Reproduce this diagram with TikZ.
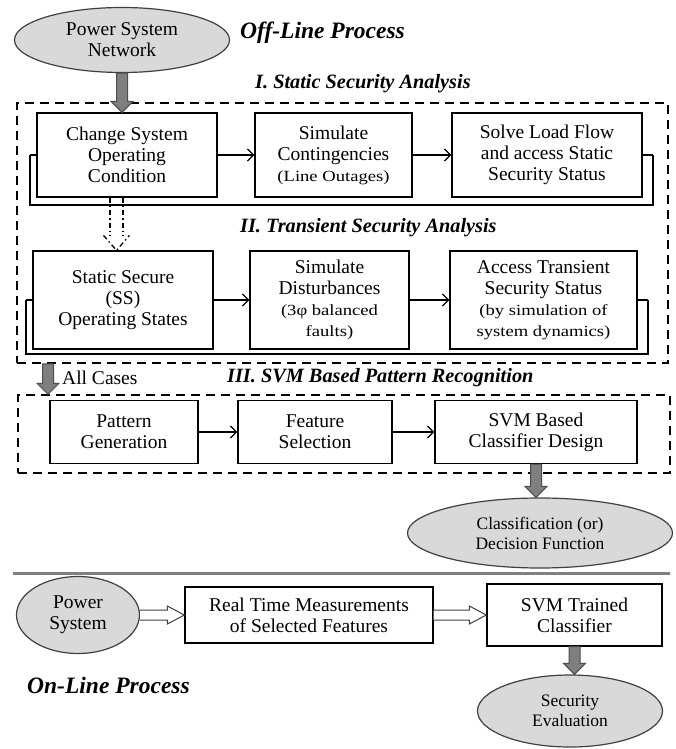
\documentclass[tikz,border=0pt]{standalone}
\usepackage{fontspec}
\setmainfont{Liberation Serif}
\newfontfamily\smallf[FakeStretch=1.2]{Liberation Serif}
\usetikzlibrary{shapes.geometric,arrows.meta,calc}
\definecolor{ellfill}{HTML}{D9D9D9}
\definecolor{ellline}{HTML}{404040}
\definecolor{garfill}{HTML}{7F7F7F}
\definecolor{garline}{HTML}{4D4D4D}
\newcommand\mainsz{\fontsize{19.5}{21}\selectfont}
\newcommand\smallsz{\smallf\fontsize{15.5}{19}\selectfont}
\newcommand\ellsz{\fontsize{17.5}{20}\selectfont}
\newcommand\titlesz{\fontsize{20.3}{24}\selectfont\bfseries\itshape}
\newcommand\bigtitlesz{\fontsize{23.5}{26}\selectfont\bfseries\itshape}
\newcommand\grayarrow[2]{\draw[garrow] ($(#1)+(-5.5,0)$) -- ($(#2)+(-5.5,-11)$) -- ($(#2)+(-11,-11)$) -- (#2) -- ($(#2)+(11,-11)$) -- ($(#2)+(5.5,-11)$) -- ($(#1)+(5.5,0)$) -- cycle;}
\newcommand\hollowarrow[2]{\draw[harrow] ($(#1)+(0,-5)$) -- ($(#2)+(-17,-5)$) -- ($(#2)+(-17,-9)$) -- (#2) -- ($(#2)+(-17,9)$) -- ($(#2)+(-17,5)$) -- ($(#1)+(0,5)$);}
\begin{document}
\begin{tikzpicture}[x=1pt,y=-1pt,
  box/.style={draw, line width=1.3pt, fill=white, align=center, inner sep=0pt, font=\mainsz},
  ell/.style={ellipse, draw=ellline, fill=ellfill, line width=1.2pt, align=center, inner sep=0pt, font=\mainsz},
  dbox/.style={draw, line width=1.5pt, dash pattern=on 9pt off 6pt, inner sep=0pt},
  frameline/.style={line width=1.3pt},
  arr/.style={line width=1.3pt, -{Straight Barb[length=6pt,width=12pt]}},
  garrow/.style={draw=garline, fill=garfill, line width=1pt},
  harrow/.style={draw=ellline, fill=white, line width=1pt},
  ddarrow/.style={line width=1.3pt, dash pattern=on 5pt off 3pt on 1.5pt off 3pt},
  title/.style={anchor=west, inner sep=0pt, font=\titlesz},
  bigtitle/.style={anchor=west, inner sep=0pt, font=\bigtitlesz}]
\useasboundingbox (0,0) rectangle (676,749);
\fill[white] (0,0) rectangle (676,749);

% ---------- Off-line process ----------
\node[ell, minimum width=215pt, minimum height=65pt] (psn) at (122,40) {Power System\\Network};
\node[bigtitle] (offl) at (240,33) {Off-Line Process};
\node[title] (t1) at (255,84) {I. Static Security Analysis};
\node[dbox, minimum width=651pt, minimum height=260pt] (dash1) at (342.5,233) {};

% I. Static security analysis
\draw[frameline] (30,155) -- (30,205) -- (653,205) -- (653,155);
\node[box, minimum width=180pt, minimum height=84pt] (change) at (127,155) {Change System\\Operating\\Condition};
\node[box, minimum width=157pt, minimum height=84pt] (simc) at (333.5,155) {Simulate\\Contingencies\\{\smallsz (Line Outages)}};
\node[box, minimum width=190pt, minimum height=84pt] (solve) at (547,155) {Solve Load Flow\\and access Static\\Security Status};
\draw[frameline] (change.west) -- (30,155);
\draw[frameline] (solve.east) -- (653,155);
\draw[arr] (change) -- (simc);
\draw[arr] (simc) -- (solve);

\coordinate (t1top) at (psn.south |- change.north);
\grayarrow{psn.south}{t1top}

% II. Transient security analysis
\node[title] (t2) at (240,228) {II. Transient Security Analysis};
\draw[frameline] (26,300) -- (26,354) -- (648,354) -- (648,300);
\node[box, minimum width=180pt, minimum height=98pt] (ss) at (123,300) {Static Secure\\(SS)\\Operating States};
\node[box, minimum width=159pt, minimum height=98pt] (simd) at (329.5,300) {Simulate\\Disturbances\\{\smallsz (3φ balanced}\\{\smallsz faults)}};
\node[box, minimum width=187pt, minimum height=98pt] (access) at (543.5,300) {Access Transient\\Security Status\\{\smallsz (by simulation of}\\{\smallsz system dynamics)}};
\draw[frameline] (ss.west) -- (26,300);
\draw[frameline] (access.east) -- (648,300);
\draw[arr] (ss) -- (simd);
\draw[arr] (simd) -- (access);

% dash-dot hollow arrow
\coordinate (dd1) at ($(change.south)+(-10.5,0)$);
\coordinate (dd2) at (dd1 |- ss.north);
\draw[ddarrow] ($(dd1)+(-6.5,0)$) -- ($(dd2)+(-6.5,-14)$);
\draw[ddarrow] ($(dd1)+(6.5,0)$) -- ($(dd2)+(6.5,-14)$);
\draw[ddarrow] ($(dd2)+(-13,-15)$) -- (dd2) -- ($(dd2)+(13,-15)$);

% III. SVM based pattern recognition
\node[dbox, minimum width=652pt, minimum height=78pt] (dash2) at (344,434) {};
\coordinate (acx) at (48,0);
\coordinate (ac1) at (acx |- dash1.south);
\coordinate (ac2) at (acx |- dash2.north);
\grayarrow{ac1}{ac2}
\node[anchor=west, inner sep=0pt, font=\mainsz] (allc) at (62,378) {All Cases};
\node[title] (t3) at (227,378) {III. SVM Based Pattern Recognition};

\node[box, minimum width=148pt, minimum height=63pt] (pat) at (124,432) {Pattern\\Generation};
\node[box, minimum width=154pt, minimum height=63pt] (feat) at (315,432) {Feature\\Selection};
\node[box, minimum width=202pt, minimum height=63pt] (svmc) at (536,432) {SVM Based\\Classifier Design};
\draw[arr] (pat) -- (feat);
\draw[arr] (feat) -- (svmc);

\node[ell, minimum width=265pt, minimum height=70pt, font=\ellsz] (cdf) at (540,533) {Classification (or)\\Decision Function};
\coordinate (cdftop) at (svmc.south |- cdf.north);
\grayarrow{svmc.south}{cdftop}

% separator
\draw[line width=3pt, color=gray] (13,573) -- (670,573);

% ---------- On-line process ----------
\node[ell, minimum width=123pt, minimum height=77pt] (ps) at (78,615) {Power\\System};
\node[box, minimum width=248pt, minimum height=56pt] (rtm) at (309,615) {Real Time Measurements\\of Selected Features};
\node[box, minimum width=175pt, minimum height=62pt] (svmt) at (574.5,615) {SVM Trained\\Classifier};
\hollowarrow{ps.east}{rtm.west}
\hollowarrow{rtm.east}{svmt.west}

\node[ell, minimum width=185pt, minimum height=72pt, font=\ellsz] (sec) at (570,711) {Security\\Evaluation};
\coordinate (sectop) at (svmt.south |- sec.north);
\grayarrow{svmt.south}{sectop}

\node[bigtitle] (onl) at (27,685) {On-Line Process};
\end{tikzpicture}
\end{document}
